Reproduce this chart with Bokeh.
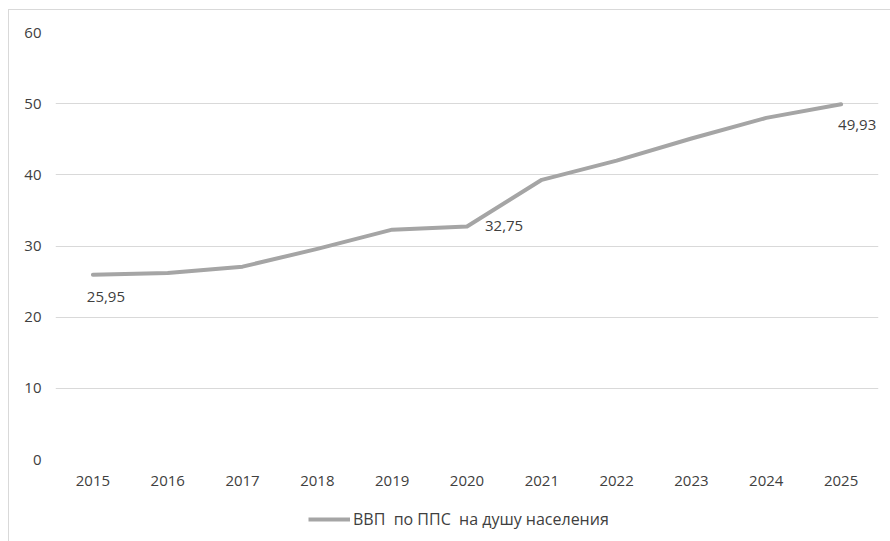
from bokeh.plotting import figure
from bokeh.layouts import column
from bokeh.models import ColumnDataSource, FactorRange, Range1d, FixedTicker, Legend, LegendItem, LabelSet
from bokeh.core.properties import value
from bokeh.embed import file_html
from bokeh.resources import INLINE

years = ["2015", "2016", "2017", "2018", "2019", "2020", "2021", "2022", "2023", "2024", "2025"]
gdp = [25.95, 26.2, 27.1, 29.6, 32.3, 32.75, 39.3, 42.0, 45.1, 48.0, 49.93]
label_years = ["2015", "2020", "2025"]
label_values = [25.95, 32.75, 49.93]
label_texts = ["25,95", "32,75", "49,93"]
y_ticks = [0, 10, 20, 30, 40, 50, 60]
series_name = "ВВП  по ППС  на душу населения"

FONT = "Open Sans"
TXT = "#404040"
FS = "15px"
LINE_COLOR = "#a5a5a5"

p = figure(width=881, height=489, x_range=FactorRange(factors=years, range_padding=0),
           y_range=Range1d(0, 60), output_backend="svg", toolbar_location=None,
           min_border_left=46, min_border_right=12, min_border_top=22, min_border_bottom=40)
p.outline_line_color = None
p.xgrid.grid_line_color = None
p.ygrid.grid_line_color = "#d9d9d9"
p.ygrid.grid_line_width = 1
p.yaxis.ticker = FixedTicker(ticks=y_ticks)

for ax in (p.xaxis, p.yaxis):
    ax.axis_line_color = None
    ax.major_tick_line_color = None
    ax.minor_tick_line_color = None
    ax.major_label_text_font = FONT
    ax.major_label_text_font_size = FS
    ax.major_label_text_color = TXT
p.yaxis.major_label_standoff = 8
p.xaxis.major_label_standoff = 10

src = ColumnDataSource(dict(x=years, y=gdp))
p.line("x", "y", source=src, line_color=LINE_COLOR, line_width=4, line_join="round", line_cap="round")

lsrc = ColumnDataSource(dict(x=label_years, y=label_values, t=label_texts,
                             dx=[13, 18, -3], dy=[-22, 0, -21],
                             al=["center", "left", "left"]))
labels = LabelSet(x="x", y="y", text="t", source=lsrc, x_offset="dx", y_offset="dy",
                  text_align="al", text_baseline="middle", text_font=value(FONT),
                  text_font_size=FS, text_color=TXT)
p.add_layout(labels)

# legend strip below the chart (series line kept out of its visible range; only the key shows)
p2 = figure(width=881, height=42, output_backend="svg", toolbar_location=None,
            x_range=FactorRange(factors=years, range_padding=0), y_range=Range1d(1000, 1001),
            x_axis_type=None, y_axis_type=None, min_border=0)
p2.outline_line_color = None
p2.xgrid.visible = False
p2.ygrid.visible = False
key = p2.line("x", "y", source=src, line_color=LINE_COLOR, line_width=4, line_cap="butt")
legend = Legend(items=[LegendItem(label=series_name, renderers=[key])],
                location=(253, 11), orientation="horizontal", padding=0, margin=0,
                glyph_width=42, glyph_height=20, label_standoff=3,
                label_text_font=FONT, label_text_font_size="16px", label_text_color=TXT,
                border_line_color=None, background_fill_alpha=0)
p2.add_layout(legend, "center")

layout = column(p, p2, spacing=0,
                styles={"border-top": "1px solid #d9d9d9", "border-left": "1px solid #d9d9d9",
                        "margin-left": "8px", "margin-top": "9px"})

open("out.html", "w").write(file_html(layout, INLINE))
